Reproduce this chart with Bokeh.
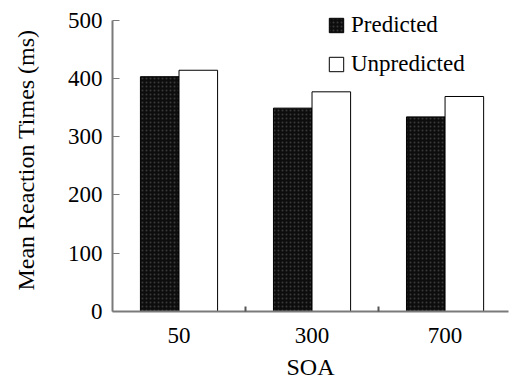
from bokeh.plotting import figure
from bokeh.models import ColumnDataSource, FixedTicker, Legend, LegendItem, Range1d
from bokeh.embed import file_html
from bokeh.resources import INLINE

soa = ["50", "300", "700"]
predicted = [403, 349, 334]
unpredicted = [414, 377, 369]
yticks = [0, 100, 200, 300, 400, 500]

bw = 0.29
xc = [i + 0.5 for i in range(len(soa))]
src = ColumnDataSource(dict(
    xp=[v - bw / 2 for v in xc],
    xu=[v + bw / 2 for v in xc],
    pred=predicted,
    unpred=unpredicted,
))

FONT = "Liberation Serif"
p = figure(width=509, height=385, output_backend="svg", toolbar_location=None,
           x_range=Range1d(0, 2.977), y_range=Range1d(0, 520),
           min_border_left=112, min_border_right=1, min_border_top=8, min_border_bottom=74)
p.outline_line_color = None
p.grid.visible = False
p.background_fill_color = "white"

r1 = p.vbar(x="xp", top="pred", width=bw, source=src, fill_color="#0d0d0d",
            line_color="black", line_width=1,
            hatch_pattern="dot", hatch_color="#9a9a9a", hatch_scale=4,
            hatch_weight=0.5, hatch_alpha=0.3)
r2 = p.vbar(x="xu", top="unpred", width=bw, source=src, fill_color="white",
            line_color="black", line_width=1)

p.xaxis.ticker = FixedTicker(ticks=xc, minor_ticks=[1, 2])
p.xaxis.major_label_overrides = {v: s for v, s in zip(xc, soa)}
p.yaxis.ticker = FixedTicker(ticks=yticks)
p.yaxis.bounds = (0, 500)

for ax in (p.xaxis[0], p.yaxis[0]):
    ax.axis_line_color = "#7a7a7a"
    ax.axis_line_width = 2
    ax.major_label_text_font = FONT
    ax.major_label_text_font_size = "23px"
    ax.major_label_text_color = "black"
    ax.axis_label_text_font = FONT
    ax.axis_label_text_font_size = "24px"
    ax.axis_label_text_font_style = "normal"
    ax.axis_label_text_color = "black"

p.xaxis.major_tick_line_color = None
p.xaxis.minor_tick_line_color = "#555555"
p.xaxis.minor_tick_in = 5
p.xaxis.minor_tick_out = 0
p.xaxis.minor_tick_line_width = 2
p.xaxis.major_label_standoff = 10
p.xaxis.axis_label = "SOA"
p.xaxis.axis_label_standoff = 8

p.yaxis.major_tick_line_color = "#7a7a7a"
p.yaxis.major_tick_in = 7
p.yaxis.major_tick_out = 0
p.yaxis.minor_tick_line_color = None
p.yaxis.major_label_standoff = 10
p.yaxis.axis_label = "Mean Reaction Times (ms)"
p.yaxis.axis_label_standoff = 26

legend = Legend(items=[LegendItem(label="Predicted", renderers=[r1]),
                       LegendItem(label="Unpredicted", renderers=[r2])],
                location=(215, 234), orientation="vertical")
legend.background_fill_alpha = 0
legend.border_line_color = None
legend.padding = 0
legend.margin = 0
legend.spacing = 13
legend.glyph_width = 18
legend.glyph_height = 18
legend.label_height = 20
legend.label_standoff = 6
legend.label_text_font = FONT
legend.label_text_font_size = "23px"
legend.label_text_color = "black"
p.add_layout(legend, "center")

open("out.html", "w").write(file_html(p, INLINE))
